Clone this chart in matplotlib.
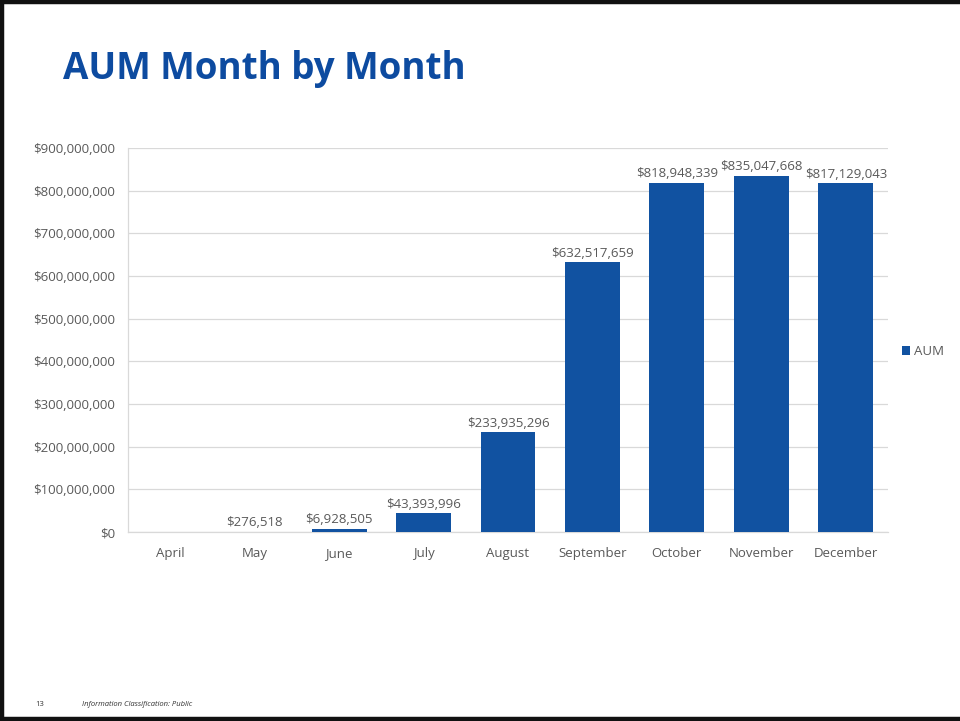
import matplotlib
matplotlib.use("Agg")
import matplotlib.pyplot as plt
from matplotlib.ticker import FuncFormatter, MultipleLocator

months = ["April", "May", "June", "July", "August", "September",
          "October", "November", "December"]
aum = [None, 276518, 6928505, 43393996, 233935296, 632517659,
       818948339, 835047668, 817129043]

title = "AUM Month by Month"
series_name = "AUM"
page_number = "13"
footer_text = "Information Classification: Public"

BAR = "#1152A1"
TEXT = "#595959"
GRID = "#D9D9D9"
FONT = ["Open Sans", "DejaVu Sans"]

plt.rcParams["font.family"] = FONT

fig = plt.figure(figsize=(9.60, 7.21), dpi=100)

# slide frame (left, top, bottom edges)
frame = dict(transform=fig.transFigure, color="#111111", lw=3.2)
fig.add_artist(plt.Line2D([0.002, 0.002], [0, 1], **frame))
fig.add_artist(plt.Line2D([0, 1], [0.997, 0.997], **frame))
fig.add_artist(plt.Line2D([0, 1], [0.003, 0.003], **frame))

fig.text(63 / 960, 1 - 69 / 721, title, fontsize=26.5, fontweight="bold",
         color="#0D4BA0", va="center", ha="left")

left, right, top, bottom = 128, 888, 148, 532
ax = fig.add_axes([left / 960, 1 - bottom / 721, (right - left) / 960,
                   (bottom - top) / 721])

x = list(range(len(months)))
vals = [v if v is not None else 0 for v in aum]
ax.bar(x, vals, width=0.65, color=BAR, label=series_name, zorder=3)

for xi, v in zip(x, aum):
    if v is None:
        continue
    ax.text(xi, v + 6e6, f"${v:,.0f}", ha="center", va="bottom",
            fontsize=9.5, color=TEXT)

ax.set_xlim(-0.5, len(months) - 0.5)
ax.set_ylim(0, 900_000_000)
ax.yaxis.set_major_locator(MultipleLocator(100_000_000))
ax.yaxis.set_major_formatter(FuncFormatter(lambda v, p: f"${v:,.0f}"))
ax.set_xticks(x)
ax.set_xticklabels(months)
ax.tick_params(axis="both", length=0, labelsize=9.5, labelcolor=TEXT)
ax.tick_params(axis="y", pad=9)
ax.tick_params(axis="x", pad=11)
ax.grid(axis="y", color=GRID, lw=0.9, zorder=0)
for s in ["top", "right"]:
    ax.spines[s].set_visible(False)
for s in ["left", "bottom"]:
    ax.spines[s].set_color(GRID)
    ax.spines[s].set_linewidth(0.9)

ax.legend(loc="center left", bbox_to_anchor=(1.003, 0.47), frameon=False,
          fontsize=9.5, labelcolor=TEXT, handlelength=0.6, handleheight=0.6,
          handletextpad=0.3)

fig.text(35 / 960, 1 - 704 / 721, page_number, fontsize=5.5, color="#333333",
         va="center", ha="left")
fig.text(82 / 960, 1 - 704 / 721, footer_text, fontsize=5.5, color="#333333",
         style="italic", va="center", ha="left")

fig.savefig("out.png", dpi=100, facecolor="white")
